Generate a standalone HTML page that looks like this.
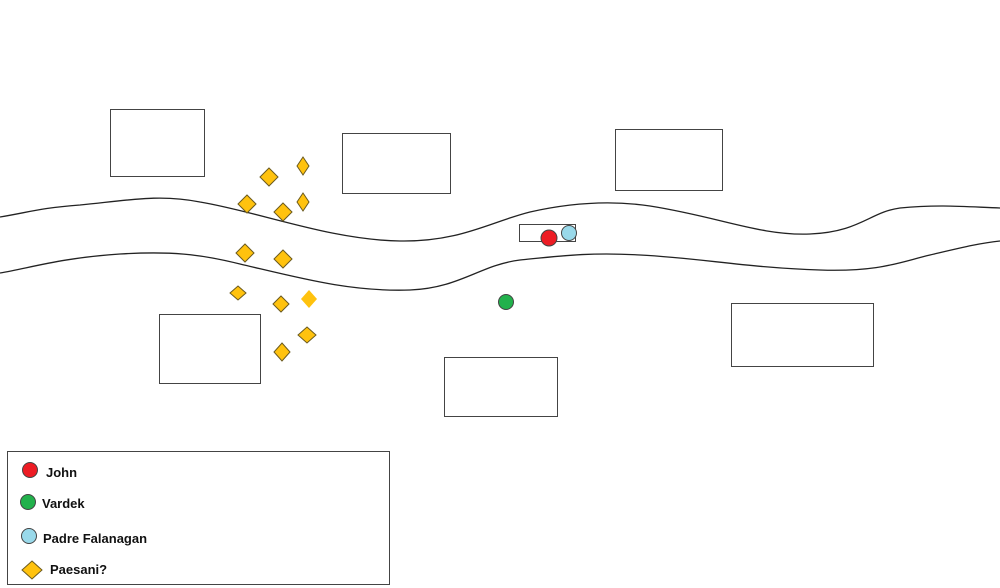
<!DOCTYPE html>
<html><head><style>body{margin:0;background:#fff}svg{display:block}</style></head><body>
<svg width="1000" height="588" xmlns="http://www.w3.org/2000/svg" font-family="Liberation Sans, sans-serif">
<g fill="none" stroke="#222" stroke-width="1.3">
<path d="M0,217 C30,212 40,208 80,205 C130,200 160,194 200,202 C260,212 330,240 400,241 C460,242 490,222 530,212 C570,203 610,200 650,206 C720,217 760,236 810,234 C860,232 870,212 900,208 C940,204 970,207 1000,208"/>
<path d="M0,273 C30,268 60,258 120,254 C170,251 200,254 240,264 C300,278 350,292 410,290 C460,288 480,265 520,260 C560,256 590,252 640,255 C700,258 750,268 820,270 C880,272 900,262 930,255 C960,248 980,243 1000,241"/>
</g>
<g fill="#fff" stroke="#444" stroke-width="1">
<rect x="110.5" y="109.5" width="94" height="67"/>
<rect x="342.5" y="133.5" width="108" height="60"/>
<rect x="615.5" y="129.5" width="107" height="61"/>
<rect x="159.5" y="314.5" width="101" height="69"/>
<rect x="444.5" y="357.5" width="113" height="59"/>
<rect x="731.5" y="303.5" width="142" height="63"/>
<rect x="519.5" y="224.5" width="56" height="17"/>
<rect x="7.5" y="451.5" width="382" height="133"/>
</g>
<g fill="#ffc20e" stroke="#6b5a1e" stroke-width="1">
<polygon points="303,157 309,166 303,175 297,166"/>
<polygon points="269,168 278,177 269,186 260,177"/>
<polygon points="247,195 256,204 247,213 238,204"/>
<polygon points="283,203 292,212 283,221 274,212"/>
<polygon points="303,193 309,202 303,211 297,202"/>
<polygon points="245,244 254,253 245,262 236,253"/>
<polygon points="283,250 292,259 283,268 274,259"/>
<polygon points="238,286 246,293 238,300 230,293"/>
<polygon points="281,296 289,304 281,312 273,304"/>
<polygon points="309,290 317,299 309,308 301,299" stroke="none"/>
<polygon points="307,327 316,335 307,343 298,335"/>
<polygon points="282,343 290,352 282,361 274,352"/>
<polygon points="32,561 42,570 32,579 22,570"/>
</g>
<g stroke="#444" stroke-width="1">
<circle cx="549" cy="238" r="8" fill="#ed1c24"/>
<circle cx="569" cy="233" r="7.5" fill="#99d9ea"/>
<circle cx="506" cy="302" r="7.5" fill="#22b14c"/>
<circle cx="30" cy="470" r="7.5" fill="#ed1c24"/>
<circle cx="28" cy="502" r="7.5" fill="#22b14c"/>
<circle cx="29" cy="536" r="7.5" fill="#99d9ea"/>
</g>
<g font-size="13" font-weight="bold" fill="#111">
<text x="46" y="477">John</text>
<text x="42" y="508">Vardek</text>
<text x="43" y="543">Padre Falanagan</text>
<text x="50" y="574">Paesani?</text>
</g>
</svg>
</body></html>
